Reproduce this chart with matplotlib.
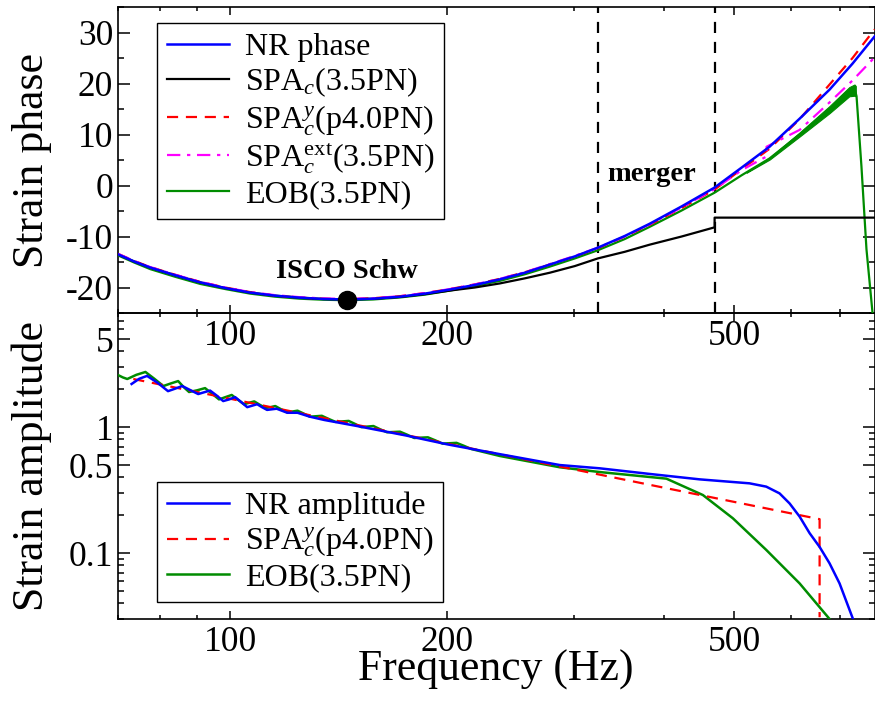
import numpy as np
import matplotlib
matplotlib.use('Agg')
import matplotlib.pyplot as plt
from matplotlib.ticker import FixedLocator, LogLocator, NullFormatter

plt.rcParams['font.family'] = ['Liberation Serif', 'DejaVu Serif']
plt.rcParams['mathtext.fontset'] = 'custom'
plt.rcParams['mathtext.rm'] = 'Liberation Serif'
plt.rcParams['mathtext.it'] = 'Liberation Serif:italic'

# ---- phase panel data (frequency in Hz, phase) ----
nr_phase_f = [69.9, 73.6, 77.5, 83.9, 90.9, 98.4, 106.6, 115.4, 125.0, 134.6, 145.2,
              157.8, 172.0, 186.2, 201.7, 218.4, 236.6, 256.3, 277.5, 300.5, 323.4,
              352.5, 381.7, 422.7, 469.6, 511.8, 559.6, 616.0, 677.8, 729.4, 782.4]
nr_phase = [-13.5, -14.9, -16.1, -17.6, -19.0, -20.1, -21.0, -21.6, -22.0, -22.25, -22.35,
            -22.2, -21.8, -21.2, -20.4, -19.5, -18.4, -17.1, -15.5, -13.9, -12.2,
            -9.9, -7.5, -4.1, -0.4, 3.5, 7.6, 13.1, 18.8, 23.9, 29.2]

spa_f = [69.9, 73.6, 77.5, 83.9, 90.9, 98.4, 106.6, 115.4, 125.0, 134.6, 145.2,
         157.8, 172.0, 186.2, 201.7, 218.4, 236.6, 256.3, 277.5, 300.5, 323.4,
         352.5, 381.7, 422.7, 469.6, 469.6, 790.0]
spa_phase = [-13.5, -14.9, -16.1, -17.6, -19.0, -20.1, -21.0, -21.6, -22.0, -22.25, -22.35,
             -22.2, -21.85, -21.3, -20.6, -20.0, -19.2, -18.2, -17.1, -15.8, -14.3,
             -13.0, -11.6, -10.0, -8.2, -6.3, -6.3]

spay_f = [69.9, 73.6, 77.5, 83.9, 90.9, 98.4, 106.6, 115.4, 125.0, 134.6, 145.2,
          157.8, 172.0, 186.2, 201.7, 218.4, 236.6, 256.3, 277.5, 300.5, 323.4,
          352.5, 381.7, 422.7, 469.6, 511.8, 559.6, 616.0, 677.8, 729.4, 782.4]
spay_phase = [-13.4, -14.8, -16.0, -17.5, -18.9, -20.0, -20.9, -21.6, -22.0, -22.2, -22.3,
              -22.1, -21.7, -21.1, -20.3, -19.4, -18.3, -17.0, -15.5, -13.9, -12.3,
              -10.0, -7.7, -4.4, -0.8, 3.2, 7.2, 13.0, 19.8, 25.0, 30.6]

spaext_f = [69.9, 73.6, 77.5, 83.9, 90.9, 98.4, 106.6, 115.4, 125.0, 134.6, 145.2,
            157.8, 172.0, 186.2, 201.7, 218.4, 236.6, 256.3, 277.5, 300.5, 323.4,
            352.5, 381.7, 422.7, 469.6, 511.8, 554.3, 554.3, 616.0, 677.8, 729.4, 782.4]
spaext_phase = [-13.4, -14.8, -16.0, -17.5, -18.9, -20.0, -20.9, -21.5, -21.9, -22.15, -22.25,
                -22.1, -21.7, -21.1, -20.3, -19.4, -18.3, -17.0, -15.4, -13.8, -12.2,
                -10.0, -7.6, -4.3, -0.7, 3.0, 5.7, 7.6, 10.9, 16.3, 20.6, 25.1]

eob_phase_f = [69.9, 73.6, 77.5, 83.9, 90.9, 98.4, 106.6, 115.4, 125.0, 134.6, 145.2,
               157.8, 172.0, 186.2, 201.7, 218.4, 236.6, 256.3, 277.5, 300.5, 323.4,
               352.5, 381.7, 422.7, 469.6, 511.8, 559.6, 616.0, 677.8, 722.4, 734.1,
               738.8, 750.5, 762.6, 777.4, 790.0]
eob_phase = [-13.7, -15.1, -16.4, -17.9, -19.3, -20.3, -21.2, -21.8, -22.2, -22.4, -22.5,
             -22.35, -21.95, -21.4, -20.6, -19.7, -18.7, -17.4, -15.9, -14.3, -12.7,
             -10.5, -8.1, -4.9, -1.4, 2.0, 5.3, 10.0, 14.9, 18.4, 19.0,
             17.5, 3.7, -12.5, -24.9, -40.0]
# jagged EOB band before the merger peak
eob_band_f = [520.0, 560.0, 616.0, 678.0, 722.0, 734.0, 737.0]
eob_band_hi = [2.6, 5.5, 10.4, 15.6, 19.3, 19.8, 19.5]
eob_band_lo = [2.5, 5.1, 9.6, 14.2, 17.5, 17.6, 17.5]

isco_f, isco_phase = 145.2, -22.4
merger_lines = [323.4, 469.6]

# ---- amplitude panel data ----
nr_amp_f = [73.0, 74.8, 76.7, 79.3, 82.0, 83.9, 85.8, 88.0, 90.3, 92.0, 93.8, 95.8,
            97.8, 99.7, 101.6, 103.6, 105.6, 107.3, 109.0, 110.7, 112.5, 116.0, 120.0,
            124.0, 129.0, 135.0, 150.0, 175.0, 200.0, 236.6, 286.5, 325.5, 381.7,
            447.7, 525.0, 553.8, 577.8, 596.6, 616.0, 636.0, 656.6, 677.8, 699.8,
            730.0, 745.0]
nr_amp = [2.20, 2.42, 2.55, 2.25, 1.93, 2.02, 2.12, 1.97, 1.83, 1.89, 1.95, 1.78,
          1.61, 1.66, 1.73, 1.58, 1.44, 1.48, 1.52, 1.44, 1.37, 1.40, 1.30,
          1.30, 1.21, 1.14, 1.02, 0.86, 0.73, 0.61, 0.50, 0.471, 0.425,
          0.385, 0.358, 0.337, 0.298, 0.248, 0.195, 0.144, 0.112, 0.083, 0.0575,
          0.0303, 0.022]

spay_amp_f = [73.4, 100.0, 200.0, 400.0, 656.6, 656.6]
spay_amp = [2.41, 1.68, 0.74, 0.33, 0.186, 0.031]

eob_amp_f = [69.9, 71.0, 72.0, 74.1, 76.3, 78.5, 80.8, 82.7, 84.7, 86.2, 87.7, 90.0,
             92.3, 94.4, 96.5, 98.5, 100.5, 102.5, 104.5, 106.2, 108.0, 110.0, 112.0,
             113.7, 115.5, 117.8, 120.0, 122.0, 124.0, 126.5, 129.0, 131.5, 134.0,
             137.0, 140.0, 143.0, 146.0, 149.0, 152.0, 155.0, 158.0, 161.5, 165.0,
             168.5, 172.0, 176.0, 180.0, 184.0, 188.0, 192.5, 197.0, 201.5, 206.0,
             211.0, 216.0, 236.6, 286.5, 325.5, 402.6, 452.4, 497.8, 553.8, 616.0,
             677.8, 700.0]
eob_amp = [2.59, 2.48, 2.41, 2.60, 2.74, 2.42, 2.12, 2.22, 2.32, 2.08, 1.90, 1.96,
           2.04, 1.84, 1.66, 1.73, 1.80, 1.65, 1.52, 1.56, 1.60, 1.50, 1.42,
           1.44, 1.47, 1.38, 1.31, 1.33, 1.35, 1.28, 1.21, 1.22, 1.23,
           1.16, 1.10, 1.11, 1.12, 1.06, 1.00, 1.01, 1.02, 0.96, 0.91,
           0.915, 0.92, 0.87, 0.82, 0.825, 0.83, 0.785, 0.74, 0.745, 0.75,
           0.71, 0.67, 0.59, 0.48, 0.44, 0.39, 0.289, 0.189, 0.106, 0.0575,
           0.030, 0.024]

BLUE, RED, MAG, GREEN = '#0000ff', '#ff0000', '#ff00ff', '#008c00'
LW = 1.6
TICK_FS = 25.5
LABEL_FS = 31.5

fig = plt.figure(figsize=(8.75, 7.01), dpi=100)
ax1 = fig.add_axes([118 / 875, 1 - 313 / 701, 756.5 / 875, 306 / 701])
ax2 = fig.add_axes([118 / 875, 1 - 619 / 701, 756.5 / 875, 306 / 701])

# phase panel
ax1.plot(nr_phase_f, nr_phase, color=BLUE, lw=1.8, label='NR phase', zorder=5)
ax1.plot(spa_f, spa_phase, color='black', lw=LW, label=r'SPA$_c$(3.5PN)', zorder=4)
ax1.plot(spay_f, spay_phase, color=RED, lw=LW, ls=(0, (5, 3.5)),
         label=r'SPA$_c^y$(p4.0PN)', zorder=4)
ax1.plot(spaext_f, spaext_phase, color=MAG, lw=LW, ls=(0, (6, 3, 1.5, 3)),
         label=r'SPA$_c^{\rm ext}$(3.5PN)', zorder=4)
ax1.plot(eob_phase_f, eob_phase, color=GREEN, lw=LW, label='EOB(3.5PN)', zorder=3)
ax1.fill_between(eob_band_f, eob_band_lo, eob_band_hi, color=GREEN, lw=0.8, zorder=3)
for fm in merger_lines:
    ax1.axvline(fm, color='black', lw=1.6, ls=(0, (5, 4)), zorder=2)
ax1.plot([isco_f], [isco_phase], 'o', color='black', ms=13, zorder=6)
ax1.text(isco_f, -16.9, 'ISCO Schw', ha='center', va='center',
         fontsize=20.5, fontweight='bold')
ax1.text(384, 2.2, 'merger', ha='center', va='center',
         fontsize=20.5, fontweight='bold')
ax1.set_xscale('log')
ax1.set_xlim(69.9, 782.4)
ax1.set_ylim(-25, 35)
ax1.set_ylabel('Strain phase', fontsize=LABEL_FS)
ax1.yaxis.set_major_locator(FixedLocator([-20, -10, 0, 10, 20, 30]))
ax1.yaxis.set_minor_locator(FixedLocator(np.arange(-25, 36, 5)))
ax1.set_yticklabels(['-20', '-10', '0', '10', '20', '30'])
leg1 = ax1.legend(loc='upper left', bbox_to_anchor=(0.0515, 0.948), borderaxespad=0,
                  fontsize=23, frameon=True, fancybox=False, edgecolor='black',
                  framealpha=1, handlelength=1.95, handletextpad=0.5,
                  labelspacing=0.12, borderpad=0.3)
leg1.get_frame().set_linewidth(1.0)

# amplitude panel
ax2.plot(nr_amp_f, nr_amp, color=BLUE, lw=1.8, label='NR amplitude', zorder=5)
ax2.plot(spay_amp_f, spay_amp, color=RED, lw=LW, ls=(0, (5, 3.5)),
         label=r'SPA$_c^y$(p4.0PN)', zorder=4)
ax2.plot(eob_amp_f, eob_amp, color=GREEN, lw=1.8, label='EOB(3.5PN)', zorder=3)
ax2.set_xscale('log')
ax2.set_yscale('log')
ax2.set_xlim(69.9, 782.4)
ax2.set_ylim(0.03, 8.05)
ax2.yaxis.set_major_locator(FixedLocator([0.1, 0.5, 1, 5]))
ax2.yaxis.set_minor_locator(LogLocator(base=10, subs=np.arange(2, 10)))
ax2.yaxis.set_minor_formatter(NullFormatter())
ax2.set_yticklabels(['0.1', '0.5', '1', '5'])
ax2.set_ylabel('Strain amplitude', fontsize=LABEL_FS)
ax2.set_xlabel('Frequency (Hz)', fontsize=LABEL_FS)
ax2.xaxis.set_label_coords(0.5, -0.1)
leg2 = ax2.legend(loc='upper left', bbox_to_anchor=(0.0515, 0.448), borderaxespad=0,
                  fontsize=23, frameon=True, fancybox=False, edgecolor='black',
                  framealpha=1, handlelength=1.95, handletextpad=0.5,
                  labelspacing=0.12, borderpad=0.3)
leg2.get_frame().set_linewidth(1.0)

for ax in (ax1, ax2):
    ax.xaxis.set_major_locator(FixedLocator([100, 200, 500]))
    ax.xaxis.set_minor_locator(FixedLocator([70, 80, 90, 300, 400, 600, 700]))
    ax.xaxis.set_minor_formatter(NullFormatter())
    ax.set_xticklabels(['100', '200', '500'])
    ax.tick_params(axis='both', which='both', direction='in', top=True, right=True,
                   labelsize=TICK_FS, width=1.1)
    ax.tick_params(axis='x', which='major', length=5.5, pad=5)
    ax.tick_params(axis='x', which='minor', length=3)
    ax.tick_params(axis='y', which='major', length=8.5)
    ax.tick_params(axis='y', which='minor', length=4.3)
    ax.yaxis.set_label_coords(-0.0873, 0.5)
    for s in ax.spines.values():
        s.set_linewidth(1.2)
    ax.set_facecolor('none')

ax1.set_zorder(3)
ax2.set_zorder(2)

fig.savefig('out.png', dpi=100)
